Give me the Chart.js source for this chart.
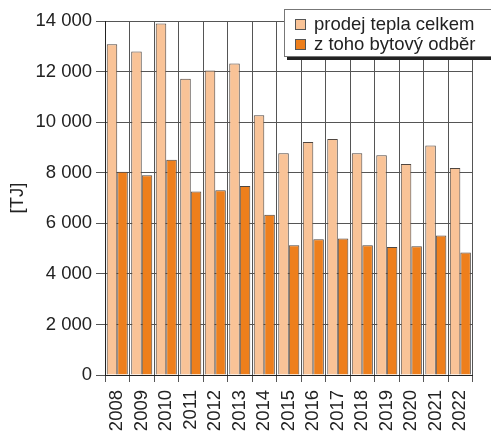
<!DOCTYPE html>
<html>
<head>
<meta charset="utf-8">
<script src="https://cdn.jsdelivr.net/npm/chart.js@4/dist/chart.umd.min.js"></script>
<style>
  html, body { margin: 0; padding: 0; background: #fff; }
  #wrap { width: 491px; height: 433px; }
</style>
</head>
<body>
<div id="wrap"><canvas id="barChart" width="491" height="433"></canvas></div>
<script>
// datos
const years = ['2008', '2009', '2010', '2011', '2012', '2013', '2014', '2015',
               '2016', '2017', '2018', '2019', '2020', '2021', '2022'];
const prodejCelkem = [13080, 12790, 13900, 11720, 12040, 12320, 10270, 8770,
                      9210, 9330, 8770, 8690, 8340, 9080, 8190];
const bytovyOdber = [8040, 7900, 8510, 7260, 7310, 7470, 6340, 5130,
                     5370, 5400, 5130, 5060, 5090, 5520, 4840];
const yTicks = [0, 2000, 4000, 6000, 8000, 10000, 12000, 14000];

const textFont = { family: 'Liberation Sans, Arial, sans-serif', size: 18.5 };
const textColor = '#222';

// leyenda propia con sombra, dibujada encima del área del gráfico
const boxLegend = {
    id: 'boxLegend',
    afterDraw(chart) {
        const ctx = chart.ctx;
        const x = 284, y = 9, w = 215, h = 47;
        ctx.save();
        ctx.fillStyle = '#222';
        ctx.fillRect(x + 3, y + 3, w, h + 1);
        ctx.fillStyle = '#fff';
        ctx.fillRect(x, y, w, h);
        ctx.strokeStyle = '#777';
        ctx.lineWidth = 1;
        ctx.strokeRect(x + 0.5, y + 0.5, w, h);
        ctx.font = textFont.size + 'px ' + textFont.family;
        ctx.textBaseline = 'middle';
        chart.data.datasets.forEach((ds, i) => {
            const cy = y + 15 + i * 20;
            ctx.fillStyle = ds.backgroundColor;
            ctx.fillRect(x + 11, cy - 5, 11, 11);
            ctx.strokeStyle = '#555';
            ctx.strokeRect(x + 11.5, cy - 4.5, 10, 10);
            ctx.fillStyle = textColor;
            ctx.fillText(ds.label, x + 30, cy + 1);
        });
        ctx.restore();
    }
};

let barChart = document.getElementById('barChart').getContext('2d');
new Chart(barChart, {
    type: 'bar',
    data: {
        labels: years,
        datasets: [{
            label: 'prodej tepla celkem',
            data: prodejCelkem,
            backgroundColor: '#f9c397',
            borderColor: '#4f4640',
            borderWidth: 1
        }, {
            label: 'z toho bytový odběr',
            data: bytovyOdber,
            backgroundColor: '#ee7f1c',
            borderColor: '#4f4640',
            borderWidth: 1
        }]
    },
    options: {
        responsive: false,
        animation: false,
        events: [],
        categoryPercentage: 0.86,
        barPercentage: 1,
        layout: { padding: { left: 0, top: 21, right: 14, bottom: 0 } },
        plugins: {
            legend: { display: false },
            tooltip: { enabled: false }
        },
        scales: {
            x: {
                afterFit(scale) { scale.height = 58; },
                grid: { color: '#555', tickLength: 7, offset: true },
                border: { color: '#222' },
                ticks: {
                    font: textFont, color: textColor,
                    minRotation: 90, maxRotation: 90, padding: 8, autoSkip: false
                }
            },
            y: {
                min: 0,
                max: 14000,
                afterFit(scale) { scale.width = 105; },
                afterBuildTicks(scale) { scale.ticks = yTicks.map(v => ({ value: v })); },
                grid: { color: '#555', tickLength: 9 },
                border: { color: '#222' },
                ticks: {
                    font: textFont, color: textColor, padding: 4,
                    callback: v => v.toLocaleString('en-US').replace(',', ' ')
                },
                title: {
                    display: true, text: '[TJ]',
                    font: textFont, color: textColor,
                    padding: { top: 7, bottom: 0 }
                }
            }
        }
    },
    plugins: [boxLegend]
});
</script>
</body>
</html>
